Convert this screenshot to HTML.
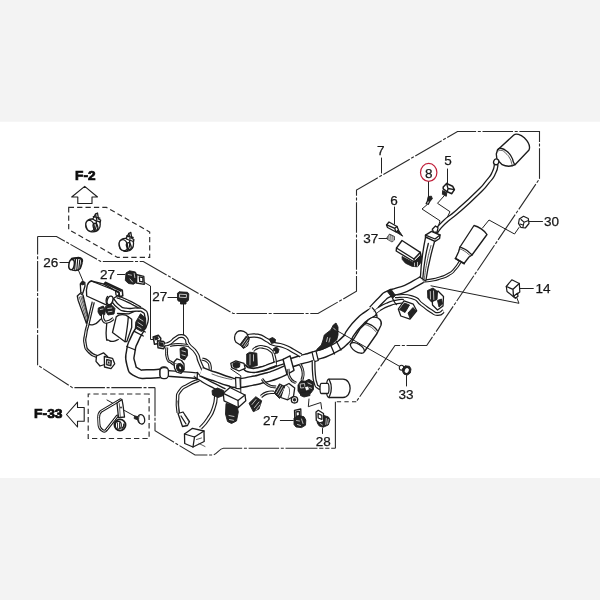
<!DOCTYPE html>
<html>
<head>
<meta charset="utf-8">
<title>Wire harness parts diagram</title>
<style>
html,body{margin:0;padding:0;}
body{width:600px;height:600px;background:#f3f3f3;overflow:hidden;font-family:"Liberation Sans",sans-serif;}
svg{position:absolute;left:0;top:0;width:600px;height:600px;will-change:transform;}
text{font-family:"Liberation Sans",sans-serif;font-size:13.5px;fill:#161616;stroke:#161616;stroke-width:.25;}
.b{font-weight:bold;font-size:12.2px;fill:#0c0c0c;stroke:#0c0c0c;stroke-width:.7;stroke-linejoin:miter;}
.k{fill:none;stroke:#1c1c1c;stroke-width:1.3;stroke-linecap:round;stroke-linejoin:round;}
.t{fill:none;stroke:#333;stroke-width:.8;stroke-linecap:round;stroke-linejoin:round;}
.w{fill:#fff;stroke:#1c1c1c;stroke-width:1.3;stroke-linecap:round;stroke-linejoin:round;}
.d{fill:#222;stroke:#1c1c1c;stroke-width:.9;stroke-linejoin:round;}
.g{fill:#777;stroke:#222;stroke-width:.7;stroke-linejoin:round;}
.h{fill:none;stroke:#fff;stroke-width:.7;stroke-linecap:round;}
.ch{fill:none;stroke:#2a2a2a;stroke-width:1.1;stroke-dasharray:30.5 1.7 3 1.7;}
.ds{fill:none;stroke:#2a2a2a;stroke-width:1.15;stroke-dasharray:5.3 3.1;}
.ld{fill:none;stroke:#222;stroke-width:1;stroke-linecap:round;stroke-linejoin:round;}
</style>
</head>
<body>
<svg viewBox="0 0 600 600">
<rect x="-1" y="121.7" width="602" height="356.3" fill="#fff"/>
<g id="chain">
<path class="ch" d="M37.6 236.5H56.5L100.8 261.5H143.3L233.2 313.5H318L356.5 291.3V190L457.5 131.5H539.5V178.7L426.7 345.5H395L356.3 401.7" style="stroke-dashoffset:2"/>
<path class="ch" d="M356.3 401.7H335.4" style="stroke-dasharray:4.3 3.3"/>
<path class="ch" d="M335.4 401.7V448.3" style="stroke-dasharray:none"/>
<path class="ch" d="M335.4 448.3H316" style="stroke-dasharray:4.2 1.8"/>
<path class="ch" d="M316 448.3H223.5C219 448.6 217 454.8 212.5 455H195L155 430.8V387.6" style="stroke-dashoffset:0"/>
<path class="ch" d="M37.6 236.5V365L72.5 387.6H155" style="stroke-dashoffset:12.5"/>
<path class="ld" d="M381.5 158V173"/>
</g>
<g id="boxes">
<path class="ds" d="M68.7 207.4H106.5L149.7 232V257.4H117.5L68.7 229.5Z"/>
<path class="ds" d="M149.1 394H88.2V438.5H149.1Z"/>
</g>
<g id="arrows">
<path class="k" d="M84.7 186.3L97.5 197H92V203.5H77.8V197H71.7Z" style="stroke-width:1.1"/>
<path class="k" d="M66.5 414.5L77.5 402.2V407.5H84.2V421.3H77.5V427Z" style="stroke-width:1.1"/>
</g>
<g id="labels">
<text class="b" x="75.1" y="179.5" textLength="20.4" lengthAdjust="spacingAndGlyphs">F-2</text>
<text class="b" x="34.1" y="418.1" textLength="28.4" lengthAdjust="spacingAndGlyphs">F-33</text>
<text x="43.3" y="266.7">26</text>
<text x="100" y="278.6">27</text>
<text x="152.3" y="301.4">27</text>
<text x="263" y="425">27</text>
<text x="315.8" y="445.6">28</text>
<text x="398.5" y="399.2">33</text>
<text x="377" y="154.8">7</text>
<text x="425" y="177.7">8</text>
<text x="444.3" y="165">5</text>
<text x="390.3" y="204.9">6</text>
<text x="363.2" y="243">37</text>
<text x="544" y="226.2">30</text>
<text x="535.5" y="292.5">14</text>
<ellipse cx="428.7" cy="172.4" rx="8.2" ry="9" fill="none" stroke="#c01f3a" stroke-width="1.2"/>
</g>
<g id="leaders">
<path class="ld" d="M60 262.5H68.7"/>
<path class="ld" d="M78.3 270L83 281"/>
<path class="ld" d="M117.5 274.5H125"/>
<path class="ld" d="M144.5 282.5L150.5 286V339.5H153"/>
<path class="ld" d="M168 297.5H177.5"/>
<path class="ld" d="M183.5 304V336"/>
<path class="ld" d="M280.3 420.5H293.3"/>
<path class="ld" d="M322.5 428.5V433.5"/>
<path class="ld" d="M309 399L308.3 406.7L320.8 402.5L321.7 409"/>
<path class="ld" d="M428.5 182V196.3"/>
<path class="ld" d="M426.7 205L422 209L440 220.8L438.5 226"/>
<path class="ld" d="M447.5 169V183.3"/>
<path class="ld" d="M444 196L437.5 203.3L450 211.7L446 220"/>
<path class="ld" d="M394.5 207V224"/>
<path class="ld" d="M379 238.5H387"/>
<path class="ld" d="M529 221.5H542.5"/>
<path class="ld" d="M519 227.5L514.5 234L489 220L482.5 228"/>
<path class="ld" d="M520 288.5H533.3"/>
<path class="ld" d="M516.7 297.5L519 303.3L431 285.8"/>
</g>
<g transform="translate(92.3 225.6)">
<path class="w" d="M-6.5 -1.5C-6.5 -5 -3 -7 1 -6.5L6 -5.5C8.5 -4.5 8.5 1 6.5 3.5C5 6 1 6.5 -2 6C-5.5 5 -6.8 2 -6.5 -1.5Z"/>
<ellipse class="w" cx="-2.2" cy="0.2" rx="4" ry="5.6" transform="rotate(-18 -2.2 0.2)"/>
<path class="k" d="M1.5 5.8C4 3 4.8 -1 3.8 -5.6"/>
<ellipse class="k" cx="3.2" cy="1.2" rx="2.2" ry="3.6" transform="rotate(-18 3.2 1.2)"/>
<path class="w" d="M0.5 -6.6L3.2 -11.5L5.2 -12.6L6.2 -6.6L8.3 -5.5L8 -3.5L2 -5.5Z"/>
<path class="k" d="M1 -9L7.5 -7.5M3.2 -11.5L4.5 -6"/>
</g>
<g transform="translate(125.6 245)">
<path class="w" d="M-6.5 -1.5C-6.5 -5 -3 -7 1 -6.5L6 -5.5C8.5 -4.5 8.5 1 6.5 3.5C5 6 1 6.5 -2 6C-5.5 5 -6.8 2 -6.5 -1.5Z"/>
<ellipse class="w" cx="-2.2" cy="0.2" rx="4" ry="5.6" transform="rotate(-18 -2.2 0.2)"/>
<path class="k" d="M1.5 5.8C4 3 4.8 -1 3.8 -5.6"/>
<ellipse class="k" cx="3.2" cy="1.2" rx="2.2" ry="3.6" transform="rotate(-18 3.2 1.2)"/>
<path class="w" d="M0.5 -6.6L3.2 -11.5L5.2 -12.6L6.2 -6.6L8.3 -5.5L8 -3.5L2 -5.5Z"/>
<path class="k" d="M1 -9L7.5 -7.5M3.2 -11.5L4.5 -6"/>
</g>
<g id="p26">
<path class="w" d="M71.5 258.6L78.5 257.6C81.8 258 82.6 260.5 82 263.5L80.3 268.5C78.5 270.6 75.5 270.8 72.5 270.2Z"/>
<path d="M71.8 258.8L78.5 257.7C81 257.9 82.2 259.3 82.2 261" fill="none" stroke="#1c1c1c" stroke-width="2" stroke-linecap="round"/>
<path d="M75.6 259L74.6 269.8M77.7 259L76.8 270M79.8 259.5L78.8 269.3M81.6 261L80.4 268" fill="none" stroke="#1c1c1c" stroke-width="1.15"/>
<ellipse class="w" cx="71.6" cy="264.6" rx="2.7" ry="5.2" transform="rotate(8 71.6 264.6)" style="stroke-width:1.5"/>
</g>
<g id="p27a">
<path class="w" d="M136 274.5L143.8 276.3L144.3 284.3L136.5 283Z"/>
<path class="k" d="M139.3 276.8L142.8 277.6L143 282L139.7 281.4Z"/>
<path class="d" d="M126 273L129.5 270.8L135.5 272L137 276L136.8 282L133.5 284.2L128.5 283.5L125.3 280.5Z"/>
<path class="h" d="M128.2 274.5L131.5 275.2M130 279L132.5 282M134.2 273.5L134.8 277.5"/>
</g>
<g id="p27b">
<path class="d" d="M177.5 293.3L179 291.8L187.5 292.3L188.8 293.8L188.5 300.3L187 301.6L178.5 301.2L177.5 299.8Z"/>
<path class="h" d="M180 294.2L186.5 294.6L186.3 297.6L179.8 297.2Z"/>
<path class="d" d="M180.5 301.3H186V304H180.5Z"/>
</g>
<g id="p27c">
<path class="w" d="M294.5 410.3L300.8 409L301 418.5L294.8 419.5Z"/>
<path class="k" d="M296 412L299.3 411.3L299.5 416L296.2 416.6Z"/>
<path class="d" d="M294 418L298.5 415.5L304 416.8L305.8 420L305.5 425.2L301.5 427.6L296 427L294 424.5Z"/>
<path class="h" d="M296.5 420.5L299.5 421M301.5 419L303 423.5M297.5 424.5L300.5 425.5"/>
</g>
<g id="p28">
<path class="d" d="M323.5 415.3L328.5 417L330 419.8L328.3 425L323 427.3L319 425.8L317 422.5L322 421Z"/>
<path class="h" d="M326.3 418.5L325.8 424.5M328.3 419.5L327.6 424M320 423.3L322.5 425"/>
<path class="w" d="M316 412L318.3 410.3L323.5 413.5L323.7 421.5L319.5 423L316.3 420.5Z"/>
<path class="k" d="M318 413.5L321.8 415.3L321.9 419.3L318.2 418Z"/>
</g>
<g id="p33">
<ellipse class="w" cx="401.5" cy="367.7" rx="2.2" ry="2.4" style="stroke-width:1.1"/>
<path class="d" d="M402.8 368.3L405 365.8L409.5 366.3L411 369L410.3 373L407.5 375L404 374.2L402.5 371.5Z"/>
<ellipse cx="406.8" cy="370.5" rx="2" ry="2.6" fill="#fff" stroke="none" transform="rotate(25 406.8 370.5)"/>
<path class="ld" d="M406.5 375.5V386"/>
</g>
<g id="small">
<path class="d" d="M428.2 196.5L431.5 196.2L432.3 199L430 201.2L427.3 200.5Z"/>
<path class="w" d="M427.6 200.7L429.8 201.3L428.3 204.3L426.2 203.6Z"/>
<path class="d" d="M442.6 190.5L446.8 192.8L446.3 196.3L442.4 194.3Z"/>
<path class="w" d="M443.2 187L446.6 183.5L452.6 186.2L454.4 189.6L451.8 193.7L447.3 191.8L443.2 188.8Z" style="stroke-width:1.5"/>
<path class="k" d="M446.6 183.5L448 188.5L454.4 189.6M448 188.5L447.3 191.8"/>
<path class="w" d="M386.5 225L389 222L397 226.5L398.5 230L396 232L387.5 227.5Z"/>
<path class="k" d="M395.6 231.5L394.8 228.3L386.8 224.8M394.8 228.3L397 226.5"/>
<path class="d" d="M396 232L398.5 230L402.7 236.2Z"/>
<path class="g" d="M387 237.5L389.5 234L394.5 236.5L394.5 240L392 242L387.5 239.5Z"/>
<path class="h" d="M389.3 235.5L389 240M391.3 236.3L391 241M393.2 237L393 240.8"/>
</g>
<g id="p30">
<path class="w" d="M519.3 219L523.5 216.3L528.3 218.5L529 223.5L525.3 228L520.8 227.3L518.5 223.5Z" style="stroke-width:1.2"/>
<path class="k" d="M521 219.5L524 222.2L528.5 220.5M524 222.2L523 227M520 224L523 225" style="stroke-width:1.1"/>
</g>
<g id="p14">
<path class="w" d="M506.3 286.5L511.8 279.8L519.3 283.5L519.8 292L513.5 296.8L507 291.5Z" style="stroke-width:1.2"/>
<path class="k" d="M506.3 286.5L513 289.3L519.3 283.5M513 289.3L513.5 296.8"/>
<path class="w" d="M513.8 296L517.5 293.3L518 296.3L515.3 298.3Z"/>
</g>
<g id="leftasm">
<path class="w" d="M77.3 296L80 293.5L83 295L88.5 318.5L86.3 323L78.2 300.5Z"/>
<path class="t" d="M79.3 297L86.8 321"/>
<path class="t" d="M80.8 296.5L87.8 319.8"/>
<path class="t" d="M82 296L88.3 318.5"/>
<path class="k" d="M86.3 322.8C88.6 323.4 88.5 325.9 93.3 324.7C98.1 323.5 98.2 321.1 100.7 319.3"/>
<path class="k" d="M106.7 323.5C106.6 328 105.6 331.4 106.3 337C107 342.6 106.4 338.9 108.7 340.3C111 341.7 110.1 341.6 113.3 341.3C116.5 341 116.6 340.1 118.3 339.5"/>
<path d="M140.5 328.5C138.5 332.2 137.7 332 134.5 339.5C131.3 347 132 342.8 130.8 351C129.6 359.2 128.9 356.8 131 364C133.1 371.2 131.3 369.2 137 372.5C142.7 375.8 140 373.7 148 374C156 374.3 156.7 373.5 161 373.3" fill="none" stroke="#1c1c1c" stroke-width="9.9" stroke-linecap="butt" stroke-linejoin="round"/>
<path d="M140.5 328.5C138.5 332.2 137.7 332 134.5 339.5C131.3 347 132 342.8 130.8 351C129.6 359.2 128.9 356.8 131 364C133.1 371.2 131.3 369.2 137 372.5C142.7 375.8 140 373.7 148 374C156 374.3 156.7 373.5 161 373.3" fill="none" stroke="#fff" stroke-width="7" stroke-linecap="butt" stroke-linejoin="round"/>
<path class="k" d="M134.3 331.3L143.3 336"/>
<path class="k" d="M137.5 328L145.3 332"/>
<path class="k" d="M126.8 346.5L135.5 350"/>
<rect class="w" x="160" y="366.8" width="8" height="11.6" rx="3.5"/>
<path class="k" d="M117.5 313.5L128.7 313.8L136.7 310.5"/>
<path class="w" d="M116.3 316.7C119 314 125.5 313.8 128.3 316.7L131.7 319.2V327.5L126.7 341.7L125 341.7L112.5 332.5Z"/>
<path class="k" d="M128.3 316.7C128 322 127 330 125 341.7"/>
<path d="M117 296.7C119.8 297.8 119.8 297.6 125.3 300C130.8 302.4 128.4 301.3 133.5 304C138.6 306.7 138.2 306.7 140.5 308" fill="none" stroke="#1c1c1c" stroke-width="3.3" stroke-linecap="butt" stroke-linejoin="round"/>
<path d="M117 296.7C119.8 297.8 119.8 297.6 125.3 300C130.8 302.4 128.4 301.3 133.5 304C138.6 306.7 138.2 306.7 140.5 308" fill="none" stroke="#fff" stroke-width="1" stroke-linecap="butt" stroke-linejoin="round"/>
<path d="M112.5 299.8C114.5 302 114 303.2 118.5 306.5C123 309.8 119.8 308.8 126 309.8C132.2 310.8 131.2 309.3 137 309.6C142.8 309.9 140.2 308.8 143.3 310.8C146.4 312.8 145.4 311.4 146.3 315.5C147.2 319.6 147.3 318.3 146 323C144.7 327.7 143.7 327.3 142.5 329.5" fill="none" stroke="#1c1c1c" stroke-width="4.5" stroke-linecap="butt" stroke-linejoin="round"/>
<path d="M112.5 299.8C114.5 302 114 303.2 118.5 306.5C123 309.8 119.8 308.8 126 309.8C132.2 310.8 131.2 309.3 137 309.6C142.8 309.9 140.2 308.8 143.3 310.8C146.4 312.8 145.4 311.4 146.3 315.5C147.2 319.6 147.3 318.3 146 323C144.7 327.7 143.7 327.3 142.5 329.5" fill="none" stroke="#fff" stroke-width="1.9" stroke-linecap="butt" stroke-linejoin="round"/>
<path class="d" d="M135.8 322L140.5 313.8L145.6 318L146 328.5L141.5 331.5L135.3 328Z"/>
<path class="h" d="M139 318.5L143 321M138 322.5L142.5 325.5M137.5 326.5L141 328.5"/>
<path class="d" d="M98.3 308L103.3 306L105.3 309.3L104.8 314.5L100 315.5L98 312Z"/>
<path class="d" d="M105.5 306.5L112 305.3L115 308.5L114 314L108 315L105.8 311.5Z"/>
<path class="h" d="M100.3 309.5L103 309M107.8 308.5L111.8 308M108.3 311.8L112 311.3"/>
<path d="M102.6 314.5C102.8 316.3 101.7 317.5 103.3 320C104.9 322.5 103.9 322.4 107.3 321.9C110.7 321.4 111.4 319.7 113.5 318.6" fill="none" stroke="#1c1c1c" stroke-width="3.3" stroke-linecap="butt" stroke-linejoin="round"/>
<path d="M102.6 314.5C102.8 316.3 101.7 317.5 103.3 320C104.9 322.5 103.9 322.4 107.3 321.9C110.7 321.4 111.4 319.7 113.5 318.6" fill="none" stroke="#fff" stroke-width="1.1" stroke-linecap="butt" stroke-linejoin="round"/>
<path d="M93.3 302C92.6 304.7 93 302.9 91.3 310C89.6 317.1 90.1 315.3 88.2 323.3C86.3 331.3 86.7 327.1 85.7 334C84.7 340.9 84 338 85.2 344C86.4 350 85.2 347.7 89.3 352C93.4 356.3 94.8 355.2 97.5 356.8" fill="none" stroke="#1c1c1c" stroke-width="3.3" stroke-linecap="butt" stroke-linejoin="round"/>
<path d="M93.3 302C92.6 304.7 93 302.9 91.3 310C89.6 317.1 90.1 315.3 88.2 323.3C86.3 331.3 86.7 327.1 85.7 334C84.7 340.9 84 338 85.2 344C86.4 350 85.2 347.7 89.3 352C93.4 356.3 94.8 355.2 97.5 356.8" fill="none" stroke="#fff" stroke-width="1" stroke-linecap="butt" stroke-linejoin="round"/>
<path class="w" d="M96.5 356L103.5 352.8L107.5 356.5L106.3 364L100 366L96 361.3Z"/>
<path class="w" d="M104.3 356.5L112.5 358.3L114.7 363.8L111 368.7L104.5 367Z"/>
<path class="d" d="M106.5 359.3L111.5 360.5L111 366L106.3 364.8Z"/>
<path class="h" d="M108 361L110 361.5L109.8 364.3L107.8 363.8Z"/>
<path class="w" d="M91.3 281C88 281.5 85.5 287 86.7 296L107.3 305.3C111 306 113 303 112.7 299L121.5 293Z"/>
<path class="k" d="M91.3 281L106 284.7L121.3 292"/>
<ellipse class="w" cx="110" cy="300.4" rx="2.7" ry="4.4" transform="rotate(18 110 300.4)"/>
<path class="k" d="M107.5 296.5C105.8 298.5 105.5 302.5 107.3 305.3" />
<path class="w" d="M104 284.2L105.3 282.3L122.3 290.3L122.8 295.8L119.8 296.7L119 292.8Z" style="stroke-width:1.5"/>
<path class="k" d="M115.5 290.3L119 292L119.5 296.5L116 295Z"/>
<path d="M105 283.3L121.5 291.3" fill="none" stroke="#1c1c1c" stroke-width="1.6"/>
<path class="w" d="M80.3 284L82.3 281.5L84.8 282.3L85 286L82.8 293.3L80.8 292.6Z"/>
<path class="d" d="M81.2 282.8L83.8 281.8L84.3 284.3L81.8 285Z"/>
<path class="w" d="M153.2 337L158.3 335.3L160.8 338.3L160 343.3L154.5 344.3Z" style="stroke-width:1.5"/>
<path class="d" d="M154.5 337.5L157.5 336.5L158.3 339L155.3 340Z"/>
<path class="w" d="M157.5 340.8L163.7 341.5L165.5 345L163.7 348.7L158 347.7Z" style="stroke-width:1.5"/>
<path class="d" d="M159 342.5L163 343L163.5 346.5L159.5 346Z"/>
</g>
<g id="center">
<path d="M199 380C195.3 381.7 194.3 381.3 188 385C181.7 388.7 183.5 386 180 391C176.5 396 178.1 392.7 177.5 400C176.9 407.3 178 408.7 178.3 413" fill="none" stroke="#1c1c1c" stroke-width="3.5" stroke-linecap="butt" stroke-linejoin="round"/>
<path d="M199 380C195.3 381.7 194.3 381.3 188 385C181.7 388.7 183.5 386 180 391C176.5 396 178.1 392.7 177.5 400C176.9 407.3 178 408.7 178.3 413" fill="none" stroke="#fff" stroke-width="1.3" stroke-linecap="butt" stroke-linejoin="round"/>
<path class="t" d="M177.8 401L179 413"/>
<path d="M216 395C215.3 399 216.7 399 214 407C211.3 415 212.5 412 208 419C203.5 426 203 425 200.5 428" fill="none" stroke="#1c1c1c" stroke-width="3.9" stroke-linecap="butt" stroke-linejoin="round"/>
<path d="M216 395C215.3 399 216.7 399 214 407C211.3 415 212.5 412 208 419C203.5 426 203 425 200.5 428" fill="none" stroke="#fff" stroke-width="1.6" stroke-linecap="butt" stroke-linejoin="round"/>
<path class="w" d="M178 413.5L183 412L189.5 421.5L187.5 425.5L182.5 426.5Z"/>
<path class="k" d="M181 416L186 424"/>
<path class="t" d="M184.5 414.5L189 422"/>
<path class="w" d="M184.5 434L192.5 428.3L204 431L204.2 441.5L193 447L184.7 443.5Z"/>
<path class="k" d="M184.5 434L194.5 437L204 431"/>
<path class="k" d="M194.5 437L193 447"/>
<path class="t" d="M196.5 439.5L201.5 438"/>
<path class="t" d="M199 443.5L205 446.5"/>
<path d="M166.7 347.5C166.9 351 165.7 353 167.3 358C168.9 363 168.6 360.2 171.5 362.5C174.4 364.8 174.5 364.2 176 365" fill="none" stroke="#1c1c1c" stroke-width="2.9" stroke-linecap="butt" stroke-linejoin="round"/>
<path d="M166.7 347.5C166.9 351 165.7 353 167.3 358C168.9 363 168.6 360.2 171.5 362.5C174.4 364.8 174.5 364.2 176 365" fill="none" stroke="#fff" stroke-width="0.8" stroke-linecap="butt" stroke-linejoin="round"/>
<path d="M165 344.5C166.7 344 166.5 345 170 343C173.5 341 171.8 340.8 175.5 338.5C179.2 336.2 177.5 336 181 336C184.5 336 183.5 335.7 186 338.5C188.5 341.3 185.2 339.8 188.5 344.5C191.8 349.2 192.3 346.8 196 352.5C199.7 358.2 197 355.5 199.5 361.5C202 367.5 202.2 367.5 203.5 370.5" fill="none" stroke="#1c1c1c" stroke-width="3.9" stroke-linecap="butt" stroke-linejoin="round"/>
<path d="M165 344.5C166.7 344 166.5 345 170 343C173.5 341 171.8 340.8 175.5 338.5C179.2 336.2 177.5 336 181 336C184.5 336 183.5 335.7 186 338.5C188.5 341.3 185.2 339.8 188.5 344.5C191.8 349.2 192.3 346.8 196 352.5C199.7 358.2 197 355.5 199.5 361.5C202 367.5 202.2 367.5 203.5 370.5" fill="none" stroke="#fff" stroke-width="1.6" stroke-linecap="butt" stroke-linejoin="round"/>
<path d="M202 359C203.8 359.8 204.8 359 207.5 361.3C210.2 363.6 209.2 362.8 210 366C210.8 369.2 209.9 369.3 209.8 371" fill="none" stroke="#1c1c1c" stroke-width="3.3" stroke-linecap="butt" stroke-linejoin="round"/>
<path d="M202 359C203.8 359.8 204.8 359 207.5 361.3C210.2 363.6 209.2 362.8 210 366C210.8 369.2 209.9 369.3 209.8 371" fill="none" stroke="#fff" stroke-width="1.1" stroke-linecap="butt" stroke-linejoin="round"/>
<path d="M170 345.5C172.7 345.2 172 344.5 178 344.5C184 344.5 184.7 345.2 188 345.5" fill="none" stroke="#1c1c1c" stroke-width="2.9" stroke-linecap="butt" stroke-linejoin="round"/>
<path d="M170 345.5C172.7 345.2 172 344.5 178 344.5C184 344.5 184.7 345.2 188 345.5" fill="none" stroke="#fff" stroke-width="0.8" stroke-linecap="butt" stroke-linejoin="round"/>
<path class="d" d="M180 348.5L184 347L187.3 349.5L187.6 355.5L184.5 360L180.5 358Z"/>
<path class="h" d="M182 350.8L185.5 351.8M182 354.8L185.3 355.8"/>
<path d="M166 373.3C172.3 373.8 174.3 373.9 185 374.7C195.7 375.5 193.7 375.4 198 375.8" fill="none" stroke="#1c1c1c" stroke-width="6.9" stroke-linecap="butt" stroke-linejoin="round"/>
<path d="M166 373.3C172.3 373.8 174.3 373.9 185 374.7C195.7 375.5 193.7 375.4 198 375.8" fill="none" stroke="#fff" stroke-width="4.2" stroke-linecap="butt" stroke-linejoin="round"/>
<path d="M195 374.5C197 375.8 197.5 376 201 378.3C204.5 380.6 200.7 378.6 205.5 381.3C210.3 384 209.2 383.3 215.5 386.5C221.8 389.7 221.5 389.5 224.5 391" fill="none" stroke="#1c1c1c" stroke-width="5.9" stroke-linecap="butt" stroke-linejoin="round"/>
<path d="M195 374.5C197 375.8 197.5 376 201 378.3C204.5 380.6 200.7 378.6 205.5 381.3C210.3 384 209.2 383.3 215.5 386.5C221.8 389.7 221.5 389.5 224.5 391" fill="none" stroke="#fff" stroke-width="3.3" stroke-linecap="butt" stroke-linejoin="round"/>
<path d="M201 371.5C203.7 372.6 203.8 372.9 209 374.8C214.2 376.7 210.3 375 216.7 377.2C223.1 379.4 221.3 379.4 228.3 381.3C235.3 383.2 229.9 383.1 237.7 383C245.5 382.9 243.2 382.6 251.7 381C260.2 379.4 255.5 380.4 263.3 378.3C271.1 376.2 267.4 377.6 275 374.8C282.6 372 282.3 371.6 286 370" fill="none" stroke="#1c1c1c" stroke-width="10.3" stroke-linecap="butt" stroke-linejoin="round"/>
<path d="M201 371.5C203.7 372.6 203.8 372.9 209 374.8C214.2 376.7 210.3 375 216.7 377.2C223.1 379.4 221.3 379.4 228.3 381.3C235.3 383.2 229.9 383.1 237.7 383C245.5 382.9 243.2 382.6 251.7 381C260.2 379.4 255.5 380.4 263.3 378.3C271.1 376.2 267.4 377.6 275 374.8C282.6 372 282.3 371.6 286 370" fill="none" stroke="#fff" stroke-width="7.4" stroke-linecap="butt" stroke-linejoin="round"/>
<path class="t" d="M212 374C215.3 375.1 215.3 375.5 222 377.3C228.7 379.1 228.7 378.8 232 379.5"/>
<path class="w" d="M235.5 377.3L240 377.8L240.5 388.8L236 388.3Z" style="stroke-width:1.2"/>
<path d="M244 366.7C246 367.7 244.7 368.8 250 369.7C255.3 370.6 253.3 370.6 260 369.5C266.7 368.4 263.3 368.7 270 366.5C276.7 364.3 273.3 365 280 362.8C286.7 360.6 286.7 360.8 290 359.8" fill="none" stroke="#1c1c1c" stroke-width="5.7" stroke-linecap="butt" stroke-linejoin="round"/>
<path d="M244 366.7C246 367.7 244.7 368.8 250 369.7C255.3 370.6 253.3 370.6 260 369.5C266.7 368.4 263.3 368.7 270 366.5C276.7 364.3 273.3 365 280 362.8C286.7 360.6 286.7 360.8 290 359.8" fill="none" stroke="#fff" stroke-width="3.1" stroke-linecap="butt" stroke-linejoin="round"/>
<path d="M288 363.8C292 362.5 291.7 362.5 300 360C308.3 357.5 302.7 359.6 313 356.3C323.3 353 320.5 355.1 331 350C341.5 344.9 337.8 347 344.5 341C351.2 335 346.3 338 351 332C355.7 326 353.3 328.3 358.5 323C363.7 317.7 361 320 366.5 316C372 312 372.2 312.7 375 311" fill="none" stroke="#1c1c1c" stroke-width="9.9" stroke-linecap="butt" stroke-linejoin="round"/>
<path d="M288 363.8C292 362.5 291.7 362.5 300 360C308.3 357.5 302.7 359.6 313 356.3C323.3 353 320.5 355.1 331 350C341.5 344.9 337.8 347 344.5 341C351.2 335 346.3 338 351 332C355.7 326 353.3 328.3 358.5 323C363.7 317.7 361 320 366.5 316C372 312 372.2 312.7 375 311" fill="none" stroke="#fff" stroke-width="7" stroke-linecap="butt" stroke-linejoin="round"/>
<rect class="w" x="160" y="367.6" width="8.4" height="11" rx="3.5"/>
<path class="w" d="M174 362L177 358.8L181.5 360.5L184 364L184.2 369.5L181 373.3L176.5 372L174.5 368Z" style="stroke-width:1.3"/>
<ellipse class="d" cx="180" cy="367.8" rx="3.4" ry="4.4" transform="rotate(-25 180 367.8)"/>
<ellipse class="w" cx="180.2" cy="367.8" rx="1.5" ry="2.2" transform="rotate(-25 180.2 367.8)"/>
<path class="t" d="M174.3 363C175.4 363.3 175.6 363.9 177.5 364C179.4 364.1 179.2 363.5 180 363.3"/>
<path class="k" d="M197.5 372.3L197 380"/>
<path class="w" d="M283 359.3L290 355.8L294 370.3L287 374.5Z" style="stroke-width:1.4"/>
<path class="w" d="M312 352.2L316 351L318.3 360.5L314.3 361.8Z" style="stroke-width:1.2"/>
<path class="k" d="M330.5 344.8L334.5 354"/>
<path class="k" d="M336.5 341.5L341 350"/>
<path d="M372 309.5C375.2 306.2 376.2 304.6 381.5 299.5C386.8 294.4 382.8 297 388 294.3C393.2 291.6 391 293.3 397 291.3C403 289.3 400 290.9 406 288.3C412 285.7 409.7 286.4 415 283.5C420.3 280.6 419.7 280.8 422 279.5" fill="none" stroke="#1c1c1c" stroke-width="7.9" stroke-linecap="butt" stroke-linejoin="round"/>
<path d="M372 309.5C375.2 306.2 376.2 304.6 381.5 299.5C386.8 294.4 382.8 297 388 294.3C393.2 291.6 391 293.3 397 291.3C403 289.3 400 290.9 406 288.3C412 285.7 409.7 286.4 415 283.5C420.3 280.6 419.7 280.8 422 279.5" fill="none" stroke="#fff" stroke-width="5.2" stroke-linecap="butt" stroke-linejoin="round"/>
<path d="M374 313C376 311.5 375.3 311.3 380 308.5C384.7 305.7 382.3 306.7 388 304.5C393.7 302.3 391.7 302.9 397 301.8C402.3 300.7 401.7 301.5 404 301.3" fill="none" stroke="#1c1c1c" stroke-width="4.9" stroke-linecap="butt" stroke-linejoin="round"/>
<path d="M374 313C376 311.5 375.3 311.3 380 308.5C384.7 305.7 382.3 306.7 388 304.5C393.7 302.3 391.7 302.9 397 301.8C402.3 300.7 401.7 301.5 404 301.3" fill="none" stroke="#fff" stroke-width="2.4" stroke-linecap="butt" stroke-linejoin="round"/>
<path d="M368 314.5L376 305.5" fill="none" stroke="#fff" stroke-width="4.6"/>
<path d="M370 316.5L379 309.2" fill="none" stroke="#fff" stroke-width="2.6"/>
<path class="k" d="M372.3 307.8C373.5 309.4 374.2 309.4 375.8 312.5C377.4 315.6 376.6 315.5 377 317"/>
<path d="M395 296.3C400.6 296.6 402.7 294.5 411.7 297.2C420.7 299.9 415.6 299.9 422 304.5C428.4 309.1 425.7 307.8 431 311C436.3 314.2 433.8 314 438 314C442.2 314 441.7 312 443.5 311" fill="none" stroke="#1c1c1c" stroke-width="3.9" stroke-linecap="butt" stroke-linejoin="round"/>
<path d="M395 296.3C400.6 296.6 402.7 294.5 411.7 297.2C420.7 299.9 415.6 299.9 422 304.5C428.4 309.1 425.7 307.8 431 311C436.3 314.2 433.8 314 438 314C442.2 314 441.7 312 443.5 311" fill="none" stroke="#fff" stroke-width="1.6" stroke-linecap="butt" stroke-linejoin="round"/>
<path class="d" d="M387.3 291.5L390.8 289L395.5 295.5L392.5 298.3Z"/>
<path class="k" d="M392.5 298.3C393.2 299.5 393.2 299.9 394.5 302C395.8 304.1 395.8 303.7 396.5 304.5"/>
<path d="M247 336.3C250.5 336.1 250.9 334.6 257.5 335.8C264.1 337 261.4 337.4 266.7 340C272 342.6 267.8 341.7 273.3 343.7C278.8 345.7 276.6 343.6 283.3 346C290 348.4 287.4 347.8 293.3 351C299.2 354.2 298.4 354 301 355.5" fill="none" stroke="#1c1c1c" stroke-width="4.5" stroke-linecap="butt" stroke-linejoin="round"/>
<path d="M247 336.3C250.5 336.1 250.9 334.6 257.5 335.8C264.1 337 261.4 337.4 266.7 340C272 342.6 267.8 341.7 273.3 343.7C278.8 345.7 276.6 343.6 283.3 346C290 348.4 287.4 347.8 293.3 351C299.2 354.2 298.4 354 301 355.5" fill="none" stroke="#fff" stroke-width="2" stroke-linecap="butt" stroke-linejoin="round"/>
<path class="w" d="M241.5 345.8L236 342.3C234 340 233.8 335 237 332C240 330 244 331 246.7 333.2L249 338.5L247.5 345.5L243.5 348Z" style="stroke-width:1.3"/>
<path class="d" d="M240 344.5L246.3 336L249 338.5L247.5 345.5L243.5 348.2Z"/>
<path class="h" d="M242 345L247 338M243.8 346.3L248 340M245.5 346.5L248.3 342.5"/>
<path class="d" d="M269.3 339L272.5 337.5L275.5 339.5L275 342.5L271.5 343.5Z"/>
<path d="M253 350.5C254.5 349.5 253.8 348.6 257.5 347.5C261.2 346.4 259.6 346.3 264 347.3C268.4 348.3 267.4 347.4 270.8 350.5C274.2 353.6 272.7 351.5 274.2 356.7C275.7 361.9 274.9 362.9 275.2 366" fill="none" stroke="#1c1c1c" stroke-width="3.5" stroke-linecap="butt" stroke-linejoin="round"/>
<path d="M253 350.5C254.5 349.5 253.8 348.6 257.5 347.5C261.2 346.4 259.6 346.3 264 347.3C268.4 348.3 267.4 347.4 270.8 350.5C274.2 353.6 272.7 351.5 274.2 356.7C275.7 361.9 274.9 362.9 275.2 366" fill="none" stroke="#fff" stroke-width="1.3" stroke-linecap="butt" stroke-linejoin="round"/>
<path class="d" d="M273.5 348.5L276.5 347L279 349.5L278 353L274.5 353.5Z"/>
<circle cx="274.3" cy="352" r="1.3" fill="#fff" stroke="#1c1c1c" stroke-width=".8"/>
<path d="M244 366.7C246 367.9 244.7 369.4 250 370.2C255.3 371 253.3 370.7 260 369.2C266.7 367.7 264.7 367.7 270 365.8C275.3 363.9 274 364.3 276 363.5" fill="none" stroke="#1c1c1c" stroke-width="5.3" stroke-linecap="butt" stroke-linejoin="round"/>
<path d="M244 366.7C246 367.9 244.7 369.4 250 370.2C255.3 371 253.3 370.7 260 369.2C266.7 367.7 264.7 367.7 270 365.8C275.3 363.9 274 364.3 276 363.5" fill="none" stroke="#fff" stroke-width="2.7" stroke-linecap="butt" stroke-linejoin="round"/>
<path class="d" d="M246.7 354L249.8 352.2L256.8 353.2L257.3 365.5L250.3 367.2L246.7 364.5Z"/>
<path class="h" d="M250 354.5V364.8M253.5 354.8V361"/>
<path class="w" d="M230.8 363.3L235.8 360.8L244 363.3L245.2 368.3L239 371L231.7 367.7Z"/>
<path class="d" d="M233 363.5L236.5 362L240 363.3L239.5 367L236 368.3L233 366.5Z"/>
<path class="ld" d="M230.8 369L240.8 375.8L240.8 393"/>
<path class="d" d="M336 323L338 327L338 335L336.7 340L330.7 345L323.3 349L316.7 351L316.7 349.5L321.3 345L323 340L324.3 335L330.7 330L333.3 325Z"/>
<path class="h" d="M333.5 328L335.5 330M327.5 337.5L326.5 341.5M330 338L329 342"/>
<path class="w" d="M350.2 344.6L360 328.8L366 323C367.5 319.5 371.5 317 374.7 317.2C378.5 317.3 382.5 320.5 381 325.3L377 333.5L364.8 351Z" style="stroke-width:1.35"/>
<ellipse class="w" cx="357.4" cy="347.9" rx="7.9" ry="3.9" transform="rotate(32 357.4 347.9)"/>
<path class="k" d="M366 323C367.4 323.5 367.5 323.2 370.3 324.6C373.1 326 372 325.3 374.3 327.3C376.6 329.3 376.3 329.5 377.3 330.6"/>
<path class="t" d="M365 324.5C366.4 325.1 366.5 324.7 369.3 326.2C372.1 327.7 371 327 373.3 329C375.6 331 375.3 331.2 376.3 332.3"/>
<path d="M313.5 360.5C313.7 365 313.3 366.3 314 374C314.7 381.7 314.4 379.2 315.7 383.5C317 387.8 316.1 385.4 318 387C319.9 388.6 320.2 387.9 321.3 388.3" fill="none" stroke="#1c1c1c" stroke-width="3.9" stroke-linecap="butt" stroke-linejoin="round"/>
<path d="M313.5 360.5C313.7 365 313.3 366.3 314 374C314.7 381.7 314.4 379.2 315.7 383.5C317 387.8 316.1 385.4 318 387C319.9 388.6 320.2 387.9 321.3 388.3" fill="none" stroke="#fff" stroke-width="1.4" stroke-linecap="butt" stroke-linejoin="round"/>
<path class="w" d="M329 379.2H343C352.5 379.2 352.5 397.5 343 397.5H329C325.5 397.5 325.5 379.2 329 379.2Z"/>
<path class="w" d="M321.5 383.3H327.5C329.5 383.3 329.5 393.5 327.5 393.5H321.5C319.5 393.5 319.5 383.3 321.5 383.3Z"/>
<path class="k" d="M329 379.2C329.8 382.1 331.3 381.9 331.3 388C331.3 394.1 329.8 394.3 329 397.5"/>
<path class="d" d="M298 385L301 380.5L306.5 381.5L307.5 386L306 393.5L300.5 394.5L298 391Z"/>
<path class="d" d="M305.5 381L309 379.3L313.3 382L313.5 389.5L310.5 393.5L306 392.3Z"/>
<path class="d" d="M300.5 392.5L309.5 391.5L310 395.5L304 397L300.5 395.5Z"/>
<path class="h" d="M300.5 384L304.5 383.5L305 387.5L301 388ZM308 383L311.3 384.5M308.3 387L311.5 388.3"/>
<path class="w" d="M304.8 386.8L308.3 386L309.5 389.5L306 391Z" style="stroke-width:.8"/>
<ellipse class="w" cx="294.5" cy="399.8" rx="3.2" ry="3.2"/>
<ellipse class="d" cx="294.5" cy="399.8" rx="1.3" ry="1.3"/>
<path class="w" d="M284 386L289 383.5L294.7 388L293.5 396.3L287.7 399.8L280.7 397.5Z"/>
<path class="t" d="M286.5 385.5C287.5 387 289 385.7 289.5 390C290 394.3 288.5 395.7 288 398.5"/>
<path class="d" d="M274 393L279.5 383.8L284.8 386.5L279.5 398.5Z"/>
<path class="h" d="M276.3 392.8L280.5 385.5M278 394.5L282.3 386.8M279.5 396L283.8 388.5"/>
<path d="M261 396.5C262.9 395.3 262.4 394.4 266.7 393C271 391.6 271.6 392.5 274 392.3" fill="none" stroke="#1c1c1c" stroke-width="3.5" stroke-linecap="butt" stroke-linejoin="round"/>
<path d="M261 396.5C262.9 395.3 262.4 394.4 266.7 393C271 391.6 271.6 392.5 274 392.3" fill="none" stroke="#fff" stroke-width="1.3" stroke-linecap="butt" stroke-linejoin="round"/>
<path class="d" d="M249 403.3L255.8 396.7L261.7 400.8L259 409L253.3 411.7Z"/>
<path class="h" d="M252 404.5L256 399.5M254.5 407.5L259 402M256 410L260 405"/>
<path d="M262 379C264 381 263.3 382.3 268 385C272.7 387.7 273.3 386.3 276 387" fill="none" stroke="#1c1c1c" stroke-width="2.9" stroke-linecap="butt" stroke-linejoin="round"/>
<path d="M262 379C264 381 263.3 382.3 268 385C272.7 387.7 273.3 386.3 276 387" fill="none" stroke="#fff" stroke-width="0.8" stroke-linecap="butt" stroke-linejoin="round"/>
<path d="M288 369C288.7 372 287.3 373.3 290 378C292.7 382.7 294 381.3 296 383" fill="none" stroke="#1c1c1c" stroke-width="2.9" stroke-linecap="butt" stroke-linejoin="round"/>
<path d="M288 369C288.7 372 287.3 373.3 290 378C292.7 382.7 294 381.3 296 383" fill="none" stroke="#fff" stroke-width="0.8" stroke-linecap="butt" stroke-linejoin="round"/>
<path d="M300 364C301 366.7 302.3 366.7 303 372C303.7 377.3 302.3 377.3 302 380" fill="none" stroke="#1c1c1c" stroke-width="2.9" stroke-linecap="butt" stroke-linejoin="round"/>
<path d="M300 364C301 366.7 302.3 366.7 303 372C303.7 377.3 302.3 377.3 302 380" fill="none" stroke="#fff" stroke-width="0.8" stroke-linecap="butt" stroke-linejoin="round"/>
<path class="d" d="M212 390.5L217.5 388L223.5 390.5L223.5 395.5L218 397.5L212.5 395Z"/>
<path class="d" d="M226 403.5L237 405.5L238.3 412L236.5 421L231.5 423.5L227.5 421.5L225.5 414Z"/>
<path class="h" d="M229 415.5L234 416.5M229.5 419.5L233.5 420.3"/>
<path class="w" d="M223.3 393.3L230 387.5L245 395L245.8 400.8L238.3 407.5L224 400.8Z"/>
<path class="k" d="M223.3 393.3L238 400.5L245 395"/>
<path class="k" d="M238 400.5L238.3 407.5"/>
</g>
<g id="right">
<path class="w" d="M398.3 309L404 300.8L413.3 304.2L416.7 310.8L410 319.2L400.8 316Z"/>
<path class="d" d="M399.5 309.5L404.5 303L409.5 305L405 312.5Z"/>
<path class="d" d="M408 313L413 307.5L416 311L410 318.3Z"/>
<path class="w" d="M432 294L438 291L443.5 296.5L443 306L437.5 310L432.5 305Z"/>
<path class="d" d="M427.5 290.5L433 288L437.5 291.5L437 299.5L431.5 302L427.8 298Z"/>
<path class="h" d="M430.3 291.5L430.5 299M433.5 291L433.8 299.5"/>
<path class="d" d="M437.5 300.5L441.5 299L442.5 304L439 307Z"/>
<path d="M460 262C458.3 264.3 458.8 264.8 455 269C451.2 273.2 453.5 271.5 448.5 274.5C443.5 277.5 445.8 276.1 440 278C434.2 279.9 436.7 279.2 431 280.2C425.3 281.2 425.7 280.7 423 281" fill="none" stroke="#1c1c1c" stroke-width="3.3" stroke-linecap="butt" stroke-linejoin="round"/>
<path d="M460 262C458.3 264.3 458.8 264.8 455 269C451.2 273.2 453.5 271.5 448.5 274.5C443.5 277.5 445.8 276.1 440 278C434.2 279.9 436.7 279.2 431 280.2C425.3 281.2 425.7 280.7 423 281" fill="none" stroke="#fff" stroke-width="1.1" stroke-linecap="butt" stroke-linejoin="round"/>
<path class="w" d="M420.4 277.5C421 265 423.3 248 425.7 236.5L434.7 241C431.5 252 428 266 425.8 281Z"/>
<path class="k" d="M422.8 278.5C423.5 272.3 423.2 271.7 425 260C426.8 248.3 427.2 249 428.3 243.5"/>
<path class="t" d="M424.3 279C425.2 273.3 424.8 273.2 427 262C429.2 250.8 429.7 251 431 245.5"/>
<path d="M435.5 232.5C438.3 229.2 436.5 229.7 444 222.5C451.5 215.3 446.8 220.8 458 211C469.2 201.2 467.7 202.7 477.5 193C487.3 183.3 482 188.8 487.5 182C493 175.2 491.1 178.5 494 172.5C496.9 166.5 495.5 166.8 496.3 164" fill="none" stroke="#1c1c1c" stroke-width="4.9" stroke-linecap="butt" stroke-linejoin="round"/>
<path d="M435.5 232.5C438.3 229.2 436.5 229.7 444 222.5C451.5 215.3 446.8 220.8 458 211C469.2 201.2 467.7 202.7 477.5 193C487.3 183.3 482 188.8 487.5 182C493 175.2 491.1 178.5 494 172.5C496.9 166.5 495.5 166.8 496.3 164" fill="none" stroke="#fff" stroke-width="2.3" stroke-linecap="butt" stroke-linejoin="round"/>
<path class="w" d="M425.5 235.2L431.5 231.3L440 235L439.6 238.5L435 241.4L425.5 237Z" style="stroke-width:1.4"/>
<path class="k" d="M425.5 235.2L435 239L440 235"/>
<path class="w" d="M432.3 229.3L435.5 226L438 227.8L437 232.3L433.5 232Z"/>
<path class="d" d="M402 256.5L413 262.5L421.5 256L421.3 262L417.5 266.8L412 266.3L405.5 263.2L402.3 259.5Z"/>
<path class="w" d="M396.5 248L402 240.5L420.3 252.3L421 255.5L414.3 262L396.2 251Z" style="stroke-width:1.4"/>
<path class="k" d="M396.5 248L414 259L420.3 252.3"/>
<path class="k" d="M414 259L414.3 262"/>
<path d="M414.8 258.6L420 253.3M416 260.3L420.6 255.3" fill="none" stroke="#1c1c1c" stroke-width="1"/>
<path class="h" d="M414.5 263V266M417.5 262.3V266"/>
<path class="w" d="M474 225.5C478.5 226.5 484.5 230.5 487 234.5L472 255L469 257L464 263.5L455.5 258.5L458.5 252L460 247Z" style="stroke-width:1.35"/>
<path class="k" d="M460 247C461.7 247.8 462 247.5 465 249.3C468 251.1 466.7 250.4 469 252.3C471.3 254.2 471 254.1 472 255"/>
<path class="t" d="M459.5 248.7C461.1 249.5 461.4 249.2 464.3 251C467.2 252.8 466 252.2 468.2 254C470.4 255.8 469.9 255.5 470.8 256.3"/>
<path d="M455.5 258.5L464 263.5" fill="none" stroke="#1c1c1c" stroke-width="1.9" stroke-linecap="round"/>
<path class="w" d="M497.5 150L513.8 135C516 133 520.5 134.5 524.3 137.8C528 141.5 530.5 146.5 529 150L515 164.7C511.5 166.8 506 166.8 502.2 164.7L499.5 162L497 160.3L496.3 154Z" style="stroke-width:1.35"/>
<path class="k" d="M497.5 150C498.5 149.5 497.5 148 500.6 148.4C503.7 148.8 503.2 148.4 506.8 151.3C510.4 154.2 509.3 153.3 511.5 157C513.7 160.7 512.3 159.7 513.5 162.3C514.7 164.9 514.5 163.9 515 164.7"/>
<path class="t" d="M498 151.5C499 151.1 498.5 149.8 501 150.3C503.5 150.8 502.6 150.3 505.5 153C508.4 155.7 507.8 154.9 509.8 158.3C511.8 161.7 510.8 160.8 511.6 163.3C512.4 165.8 512.1 165 512.3 165.8"/>
<ellipse class="w" cx="496.2" cy="161.8" rx="2.6" ry="2.9" transform="rotate(20 496.2 161.8)"/>
</g>
<g id="f33">
<path d="M120.5 399.8L101.2 411.2C99.3 412.5 98.6 415 98.6 417.5L99 425C99.3 427.5 100.8 429.6 102.5 430.5C104 431.5 105.3 431.3 106.3 430L117.3 416" fill="none" stroke="#1c1c1c" stroke-width="2.9" stroke-linecap="round" stroke-linejoin="round"/>
<path d="M120.5 399.8L101.2 411.2C99.3 412.5 98.6 415 98.6 417.5L99 425C99.3 427.5 100.8 429.6 102.5 430.5C104 431.5 105.3 431.3 106.3 430L117.3 416" fill="none" stroke="#fff" stroke-width="1" stroke-linecap="round" stroke-linejoin="round"/>
<path class="w" d="M117 403L122 399.5L123 405L124.5 417L118.5 417.7Z"/>
<circle cx="121" cy="407.5" r="0.9" fill="#222"/>
<path class="t" d="M119.3 403.5L120.3 417"/>
<circle cx="120" cy="425" r="5.6" fill="#fff" stroke="#1c1c1c" stroke-width="1.7"/>
<ellipse cx="118.3" cy="425.2" rx="3" ry="3.8" fill="#fff" stroke="#1c1c1c" stroke-width="1.2"/>
<path d="M117.5 422.5V428M119.5 422.3V428.3" fill="none" stroke="#222" stroke-width=".9"/>
<path d="M121.5 428.5C123.5 427.5 124.3 425.5 123.8 423.5" fill="none" stroke="#1c1c1c" stroke-width="1.6"/>
<path class="ld" d="M107 400L112.5 403"/>
<path class="ld" d="M124.5 410.5L134.5 416"/>
<path class="d" d="M134.5 415.8L138.8 417L138.3 420L134.2 418.6Z"/>
<ellipse class="w" cx="141.2" cy="419.3" rx="3.4" ry="4.8" transform="rotate(-12 141.2 419.3)"/>
<path class="k" d="M139.2 415.8C138.2 418.2 138.3 421 139.6 423.2" style="stroke-width:.9"/>
</g>
<path class="ld" d="M337.5 331L399.5 366.3"/>
</svg>
</body>
</html>
